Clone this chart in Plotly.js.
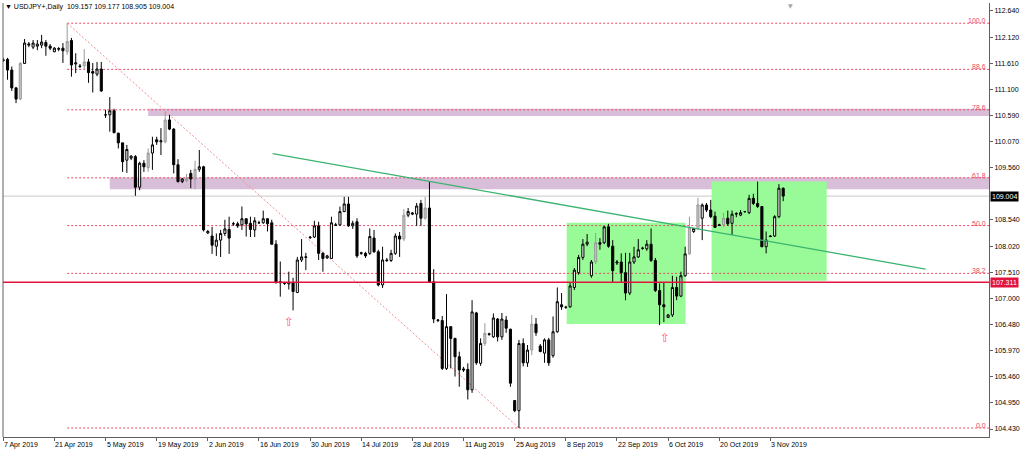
<!DOCTYPE html>
<html><head><meta charset="utf-8">
<script src="https://cdn.plot.ly/plotly-3.0.1.min.js"></script>
<style>html,body{margin:0;padding:0;background:#fff}#chart{width:1024px;height:453px}</style>
</head><body><div id="chart"></div>
<script>
// USDJPY+ Daily, one bar per trading day (incl. Sunday bars), starting Sun 7 Apr 2019
const opens = [111.68,111.69,111.48,111.13,110.91,111.61,111.97,111.93,111.95,111.97,
112.02,111.95,111.84,111.89,111.91,111.84,112.06,111.60,111.56,111.56,
111.64,111.45,111.40,111.50,110.60,110.60,110.68,110.24,110.05,109.71,
109.75,109.78,109.18,109.65,109.56,109.85,110.11,110.07,110.07,110.50,
110.32,109.62,109.29,109.31,109.45,109.34,109.53,109.58,108.28,108.22,
108.02,108.14,108.27,108.35,108.46,108.46,108.44,108.56,108.47,108.34,
108.48,108.48,108.56,108.48,108.06,107.30,107.29,107.28,107.30,107.11,
107.75,107.80,108.20,108.20,108.42,107.88,107.79,107.78,108.44,108.44,
108.70,108.85,108.42,108.50,107.88,107.88,107.88,108.18,107.91,107.26,
107.75,107.74,107.88,108.22,108.16,108.63,108.65,108.65,108.86,108.57,
108.77,107.32,106.56,106.56,105.62,106.44,106.21,105.85,105.61,105.60,
105.20,106.71,105.72,106.11,106.30,106.24,106.59,106.24,106.57,106.39,
104.99,104.79,106.11,105.73,105.98,106.49,106.06,105.92,106.18,105.87,
106.34,106.87,106.82,106.83,107.21,107.50,107.80,108.06,107.44,107.71,
108.09,108.09,108.40,108.02,107.69,107.71,107.50,107.10,107.71,107.81,
107.98,107.97,108.06,107.74,107.15,106.87,106.62,106.67,107.21,107.04,
107.44,107.87,108.31,108.37,108.57,108.83,108.73,108.61,108.44,108.44,
108.57,108.47,108.65,108.63,108.70,108.68,108.96,108.86,108.80,108.01,
108.22,108.22,108.60,109.157];
const highs = [111.72,111.72,111.55,111.15,111.64,112.09,112.03,112.07,112.07,112.17,
112.07,111.99,111.93,111.93,112.01,112.40,112.11,111.81,111.60,111.89,
111.70,111.62,111.64,111.64,110.70,110.95,110.72,110.25,110.05,110.01,
109.81,109.81,109.68,109.71,109.94,110.17,110.17,110.34,110.66,110.60,
110.34,109.73,109.36,109.44,109.52,109.70,109.91,109.60,108.34,108.40,
108.27,108.34,108.54,108.60,108.50,108.50,108.80,108.56,108.60,108.59,
108.52,108.72,108.56,108.54,108.14,107.72,107.32,107.52,107.40,107.81,
108.16,107.89,108.22,108.52,108.50,107.91,107.85,108.60,108.48,108.80,
108.99,108.99,108.52,108.57,107.91,107.91,108.37,108.34,107.95,108.01,
107.79,107.95,108.27,108.30,108.75,108.77,108.69,108.87,108.93,108.99,
109.30,107.57,106.59,106.65,107.08,106.45,106.22,105.95,105.65,105.72,
106.96,106.73,106.21,106.51,106.32,106.70,106.61,106.71,106.65,106.40,
105.00,106.18,106.21,106.08,106.67,106.61,106.10,106.21,106.22,106.64,
107.21,107.10,106.85,107.30,107.59,107.85,108.16,108.26,107.75,108.28,
108.18,108.42,108.46,108.14,107.75,107.88,107.89,107.89,108.01,108.16,
108.01,108.14,108.37,107.79,107.29,107.30,106.69,107.44,107.42,107.52,
108.01,108.60,108.38,108.97,108.86,108.87,108.93,108.70,108.46,108.68,
108.72,108.72,108.69,108.73,108.71,109.03,109.05,109.29,108.81,108.31,
108.24,108.63,109.24,109.177];
const lows = [111.64,111.29,111.07,110.83,110.89,111.60,111.93,111.89,111.87,111.91,
111.76,111.87,111.83,111.85,111.62,111.78,111.35,111.42,111.52,111.48,
111.23,111.04,111.36,111.05,110.54,110.27,110.24,109.94,109.48,109.46,
109.71,109.01,109.12,109.48,109.48,109.52,110.01,109.81,110.04,110.30,
109.45,109.27,109.26,109.28,109.16,109.14,109.48,108.31,108.26,107.87,
107.83,107.81,108.22,107.87,108.42,108.38,108.34,108.21,108.20,108.20,
108.46,108.46,108.31,108.05,107.30,107.03,107.26,107.17,106.76,107.10,
107.71,107.55,108.16,108.18,107.75,107.52,107.77,107.77,108.42,108.42,
108.69,108.40,108.36,107.79,107.85,107.79,107.85,107.89,107.23,107.20,
107.71,107.71,107.85,107.81,108.12,108.59,108.63,108.42,108.42,108.54,
107.30,106.51,106.53,105.59,105.59,105.62,105.46,105.26,105.55,105.01,
105.14,105.69,105.67,106.06,106.26,106.22,106.15,106.18,106.32,105.26,
104.76,104.45,105.66,105.65,105.88,106.26,105.94,105.73,105.67,105.83,
106.32,106.77,106.79,106.81,107.16,107.46,107.75,108.02,107.40,107.67,
107.95,108.06,107.99,107.30,107.65,107.30,106.96,107.06,107.67,107.79,
107.95,107.93,107.71,107.12,106.47,106.53,106.61,106.63,106.96,107.02,
107.42,107.85,108.28,108.34,108.14,108.69,108.57,108.38,108.42,108.40,
108.42,108.24,108.59,108.61,108.68,108.65,108.83,108.77,108.00,107.88,
108.20,108.20,108.57,108.905];
const closes = [111.67,111.48,111.13,110.91,111.61,112.01,111.99,112.01,111.99,112.03,
111.95,111.91,111.91,111.90,111.86,112.04,111.58,111.62,111.55,111.64,
111.43,111.42,111.50,111.07,110.60,110.68,110.25,110.05,109.68,109.92,
109.79,109.18,109.65,109.58,109.85,110.01,110.07,110.09,110.50,110.32,
109.62,109.29,109.34,109.35,109.34,109.53,109.58,108.34,108.31,108.04,
108.14,108.27,108.36,108.18,108.46,108.42,108.56,108.46,108.35,108.52,
108.48,108.56,108.46,108.06,107.30,107.32,107.29,107.31,107.13,107.75,
107.81,107.81,108.19,108.42,107.88,107.78,107.83,108.48,108.43,108.70,
108.85,108.42,108.47,107.83,107.89,107.83,108.21,107.91,107.26,107.75,
107.74,107.88,108.22,108.16,108.63,108.70,108.67,108.81,108.57,108.77,
107.32,106.59,106.57,105.62,106.44,106.21,105.85,105.59,105.59,105.20,
106.73,105.73,106.11,106.31,106.29,106.61,106.24,106.59,106.41,105.33,
104.79,106.11,105.73,105.98,106.49,106.32,105.95,106.18,105.73,106.34,
106.93,106.83,106.82,107.24,107.55,107.80,108.06,108.10,107.71,108.09,
108.06,108.40,108.02,107.54,107.71,107.50,107.10,107.71,107.81,107.95,
107.98,108.06,107.74,107.15,106.87,106.83,106.67,107.21,107.04,107.44,
107.87,108.39,108.37,108.83,108.83,108.73,108.60,108.39,108.43,108.57,
108.46,108.65,108.66,108.68,108.70,108.96,108.86,108.80,108.01,108.14,
108.21,108.60,109.16,109.004];
const greyBars = [4,15,19,34,38,43,45,94,99,113,124,139,161,163,169];

const tickLabels = ['7 Apr 2019','21 Apr 2019','5 May 2019','19 May 2019','2 Jun 2019','16 Jun 2019',
  '30 Jun 2019','14 Jul 2019','28 Jul 2019','11 Aug 2019','25 Aug 2019','8 Sep 2019',
  '22 Sep 2019','6 Oct 2019','20 Oct 2019','3 Nov 2019'];
const yTicks = [112.640,112.120,111.610,111.100,110.590,110.070,109.560,108.540,108.020,107.510,107.000,106.480,105.970,105.460,104.950,104.430];

const symbol = 'USDJPY+,Daily';
const fibHigh = 112.40, fibLow = 104.45, fibHighBar = 15, fibLowBar = 121;
const fibLevels = [100.0, 88.6, 78.6, 61.8, 50.0, 38.2, 0.0];
const supportLevel = 107.311;
const zones = [{from:34, lo:110.58, hi:110.72},{from:25, lo:109.14, hi:109.37}];
const boxes = [{x0:132.2, x1:160.1, lo:106.49, hi:108.48},{x0:166.2, x1:193.2, lo:107.34, hi:109.29}];
const trend = {x0:63.2, y0:109.84, x1:216.4, y1:107.57};
const arrowBars = [67.1, 155.2], arrowPrices = [106.53, 106.22];

// ---- build ----
const N = opens.length;
const lastClose = closes[N-1];
const idx = opens.map((_, i) => i);
const xMin = -0.06, xMax = 231.29;
const yMin = 104.273, yMax = 112.797;
const FONT = 'Liberation Sans, Arial, sans-serif';
const FIB = '#ec4866';
const isGrey = i => greyBars.includes(i);
const pick = (arr, keep) => arr.filter((_, i) => keep(i));
function candles(keep, inc, dec) {
  return {type:'candlestick', x:pick(idx,keep), open:pick(opens,keep), high:pick(highs,keep),
    low:pick(lows,keep), close:pick(closes,keep), whiskerwidth:0, hoverinfo:'skip', showlegend:false,
    increasing:{line:{color:inc[0], width:1}, fillcolor:inc[1]},
    decreasing:{line:{color:dec[0], width:1}, fillcolor:dec[1]}};
}
const traces = [
  candles(i => !isGrey(i), ['#000000','#ffffff'], ['#000000','#000000']),
  candles(i => isGrey(i), ['#9a9a9a','#c4c4c4'], ['#000000','#000000'])
];

const shapes = [];
zones.forEach(z => shapes.push({type:'rect', xref:'x', yref:'y', x0:z.from, x1:xMax, y0:z.lo, y1:z.hi,
  fillcolor:'#d8bed8', line:{width:0}, layer:'below'}));
boxes.forEach(b => shapes.push({type:'rect', xref:'x', yref:'y', x0:b.x0, x1:b.x1, y0:b.lo, y1:b.hi,
  fillcolor:'#98fb98', line:{width:0}, layer:'below'}));
const fibPrice = lv => fibLow + lv/100*(fibHigh - fibLow);
fibLevels.forEach(lv => shapes.push({type:'line', xref:'x', yref:'y', x0:fibHighBar, x1:xMax,
  y0:fibPrice(lv), y1:fibPrice(lv), line:{color:FIB, width:1, dash:'2px,2px'}, layer:'below'}));
shapes.push({type:'line', xref:'x', yref:'y', x0:fibHighBar, y0:fibHigh, x1:fibLowBar, y1:fibLow,
  line:{color:'#f58c8c', width:1, dash:'2px,2px'}, layer:'below'});
shapes.push({type:'line', xref:'paper', yref:'y', x0:0, x1:1, y0:lastClose, y1:lastClose,
  line:{color:'#c8c8c8', width:1}, layer:'below'});
shapes.push({type:'line', xref:'paper', yref:'y', x0:0, x1:1, y0:supportLevel, y1:supportLevel,
  line:{color:'#e0143c', width:1.5}});
shapes.push({type:'line', xref:'x', yref:'y', x0:trend.x0, y0:trend.y0, x1:trend.x1, y1:trend.y1,
  line:{color:'#3cb371', width:1.3}});
shapes.push({type:'line', xref:'paper', yref:'paper', x0:0, x1:0, y0:0, y1:1, line:{color:'#606060', width:1}});

const annotations = [];
tickLabels.forEach((t, k) => annotations.push({x:k*12, xref:'x', y:0, yref:'paper', xanchor:'left', yanchor:'top',
  xshift:-1, yshift:-2, text:t, showarrow:false, font:{family:FONT, size:7, color:'#000'}}));
fibLevels.forEach(lv => annotations.push({x:1, xref:'paper', y:fibPrice(lv), yref:'y', xanchor:'right', yanchor:'bottom',
  xshift:-1, yshift:-3, text:lv.toFixed(1), showarrow:false, font:{family:FONT, size:7, color:FIB}}));
annotations.push({x:1, xref:'paper', y:lastClose, yref:'y', xanchor:'left', yanchor:'middle', xshift:1,
  text:lastClose.toFixed(3), showarrow:false, bgcolor:'#000', borderpad:1, font:{family:FONT, size:7, color:'#fff'}});
annotations.push({x:1, xref:'paper', y:supportLevel, yref:'y', xanchor:'left', yanchor:'middle', xshift:1,
  text:supportLevel.toFixed(3), showarrow:false, bgcolor:'#e0143c', borderpad:1, font:{family:FONT, size:7, color:'#fff'}});
arrowBars.forEach((b, k) => annotations.push({x:b, xref:'x', y:arrowPrices[k], yref:'y', xanchor:'center', yanchor:'middle',
  text:'\u21E7', showarrow:false, font:{family:'DejaVu Sans', size:12, color:'#ff5a78'}}));
annotations.push({x:0, xref:'paper', y:1, yref:'paper', xanchor:'left', yanchor:'top', xshift:0, yshift:2,
  text:'\u25BC\u00a0' + symbol + '\u00a0\u00a0' + [opens[N-1], highs[N-1], lows[N-1], closes[N-1]].map(v => v.toFixed(3)).join('\u00a0'),
  showarrow:false, font:{family:FONT, size:7, color:'#000'}});
annotations.push({x:184.8, xref:'x', y:1, yref:'paper', xanchor:'center', yanchor:'top', yshift:3,
  text:'\u25BC', showarrow:false, font:{family:'DejaVu Sans', size:6, color:'#a8a8a8'}});

const layout = {
  width:1024, height:453, margin:{l:3, r:35, t:3, b:16},
  paper_bgcolor:'#ffffff', plot_bgcolor:'#ffffff', showlegend:false,
  xaxis:{type:'linear', range:[xMin, xMax], showgrid:false, zeroline:false, showline:true, linecolor:'#606060', linewidth:1,
    ticks:'outside', ticklen:3, tickcolor:'#606060', tickvals:tickLabels.map((_, k) => k*12), showticklabels:false,
    rangeslider:{visible:false}, fixedrange:true},
  yaxis:{range:[yMin, yMax], side:'right', showgrid:false, zeroline:false, showline:true, linecolor:'#606060', linewidth:1,
    ticks:'outside', ticklen:3, tickcolor:'#606060', tickvals:yTicks, ticktext:yTicks.map(v => v.toFixed(3)),
    tickfont:{family:FONT, size:7, color:'#000'}, fixedrange:true},
  boxgap:0.3,
  shapes:shapes, annotations:annotations
};
Plotly.newPlot('chart', traces, layout, {staticPlot:true, displayModeBar:false});
</script></body></html>
